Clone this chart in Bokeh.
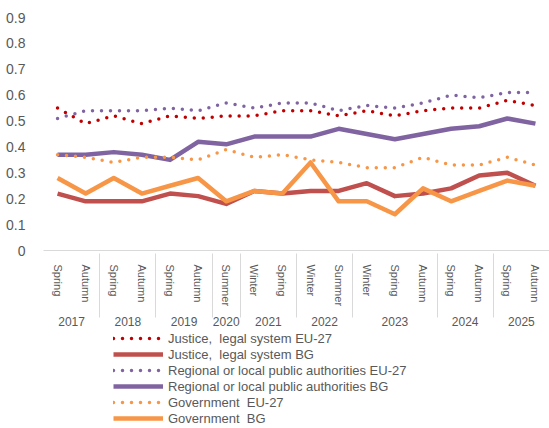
from bokeh.plotting import figure
from bokeh.layouts import column
from bokeh.models import FactorRange, Range1d, ColumnDataSource, Legend, LegendItem, FixedTicker
from bokeh.embed import file_html
from bokeh.resources import INLINE

years = ["2017", "2017", "2018", "2018", "2019", "2019", "2020", "2021", "2021",
         "2022", "2022", "2023", "2023", "2023", "2024", "2024", "2025", "2025"]
seasons = ["Spring", "Autumn", "Spring", "Autumn", "Spring", "Autumn", "Summer", "Winter", "Spring",
           "Winter", "Summer", "Winter", "Spring", "Autumn", "Spring", "Autumn", "Spring", "Autumn"]

justice_eu = [0.55, 0.49, 0.52, 0.49, 0.52, 0.51, 0.52, 0.52, 0.54, 0.54, 0.52, 0.54, 0.52, 0.54, 0.55, 0.55, 0.58, 0.56]
justice_bg = [0.22, 0.19, 0.19, 0.19, 0.22, 0.21, 0.18, 0.23, 0.22, 0.23, 0.23, 0.26, 0.21, 0.22, 0.24, 0.29, 0.30, 0.25]
regional_eu = [0.51, 0.54, 0.54, 0.54, 0.55, 0.54, 0.57, 0.55, 0.57, 0.57, 0.54, 0.56, 0.55, 0.57, 0.60, 0.59, 0.61, 0.61]
regional_bg = [0.37, 0.37, 0.38, 0.37, 0.35, 0.42, 0.41, 0.44, 0.44, 0.44, 0.47, 0.45, 0.43, 0.45, 0.47, 0.48, 0.51, 0.49]
gov_eu = [0.37, 0.36, 0.34, 0.36, 0.36, 0.35, 0.39, 0.36, 0.37, 0.35, 0.34, 0.32, 0.32, 0.36, 0.33, 0.33, 0.36, 0.33]
gov_bg = [0.28, 0.22, 0.28, 0.22, 0.25, 0.28, 0.19, 0.23, 0.22, 0.34, 0.19, 0.19, 0.14, 0.24, 0.19, 0.23, 0.27, 0.25]

y_ticks = [0, 0.1, 0.2, 0.3, 0.4, 0.5, 0.6, 0.7, 0.8, 0.9]

factors = list(zip(years, seasons))
src = ColumnDataSource(dict(x=factors, justice_eu=justice_eu, justice_bg=justice_bg,
                            regional_eu=regional_eu, regional_bg=regional_bg,
                            gov_eu=gov_eu, gov_bg=gov_bg))

FONT = "Liberation Sans"
GREY = "#595959"

x_range = FactorRange(*factors, range_padding=0, group_padding=0, subgroup_padding=0, factor_padding=0)
y_range = Range1d(0, 0.9)

p = figure(x_range=x_range, y_range=y_range, width=549, height=330,
           output_backend="svg", toolbar_location=None,
           min_border_left=43, min_border_right=0, min_border_top=17, min_border_bottom=80)
p.outline_line_color = None
p.xgrid.grid_line_color = None
p.ygrid.grid_line_color = None

# separate strip that only carries the legend
pl = figure(x_range=x_range, y_range=y_range, width=549, height=98,
            output_backend="svg", toolbar_location=None,
            x_axis_location=None, y_axis_location=None,
            min_border_left=0, min_border_right=0, min_border_top=0, min_border_bottom=0)
pl.outline_line_color = None
pl.xgrid.grid_line_color = None
pl.ygrid.grid_line_color = None

series = [
    ("justice_eu", "Justice,  legal system EU-27", "#C00000", True),
    ("justice_bg", "Justice,  legal system BG", "#C0504D", False),
    ("regional_eu", "Regional or local public authorities EU-27", "#8064A2", True),
    ("regional_bg", "Regional or local public authorities BG", "#8064A2", False),
    ("gov_eu", "Government  EU-27", "#F79646", True),
    ("gov_bg", "Government  BG", "#F79646", False),
]
items = []
for col, label, color, dotted in series:
    if dotted:
        style = dict(line_color=color, line_width=3.5, line_dash="0 9", line_cap="round", line_join="round")
    else:
        style = dict(line_color=color, line_width=4.5, line_join="round")
    p.line("x", col, source=src, **style)
    r = pl.line("x", col, source=src, visible=False, **style)
    items.append(LegendItem(label=label, renderers=[r]))

# y axis
yax = p.yaxis[0]
yax.ticker = FixedTicker(ticks=y_ticks)
yax.axis_line_color = None
yax.major_tick_line_color = None
yax.minor_tick_line_color = None
yax.major_label_text_font = FONT
yax.major_label_text_font_size = "14px"
yax.major_label_text_color = GREY
yax.major_label_standoff = 12

# x axis
xax = p.xaxis[0]
xax.axis_line_color = "#D9D9D9"
xax.major_tick_line_color = None
xax.minor_tick_line_color = None
xax.major_label_orientation = "vertical"
xax.major_label_text_font = FONT
xax.major_label_text_font_size = "11px"
xax.major_label_text_color = GREY
xax.major_label_standoff = 8
xax.group_text_font = FONT
xax.group_text_font_size = "12px"
xax.group_text_font_style = "normal"
xax.group_text_color = GREY
xax.group_label_orientation = "horizontal"
xax.separator_line_color = "#D9D9D9"
xax.separator_line_width = 1

legend = Legend(items=items, location=(70, 2), orientation="vertical",
                glyph_width=50, glyph_height=16, label_height=16, spacing=0,
                padding=0, margin=0, label_standoff=5,
                label_text_font=FONT, label_text_font_size="13px", label_text_color=GREY,
                border_line_color=None, background_fill_alpha=0,
                inactive_fill_alpha=0)
pl.add_layout(legend, "center")

layout = column(p, pl, spacing=0)
open("out.html", "w").write(file_html(layout, INLINE))
